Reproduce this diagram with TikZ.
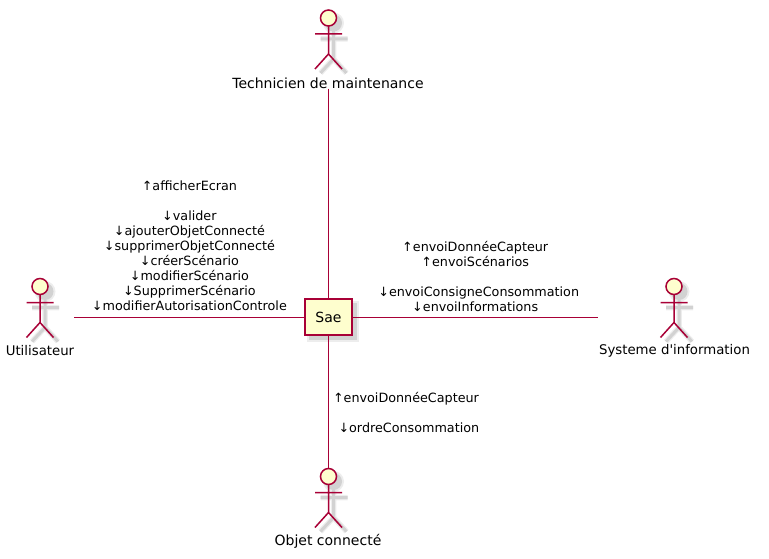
\documentclass[tikz,border=0pt]{standalone}
\usepackage{fontspec}
\setmainfont{DejaVu Sans}
\newfontfamily\plainquote{DejaVu Sans}
\definecolor{umlred}{HTML}{A80036}
\definecolor{umlfill}{HTML}{FEFECE}
\definecolor{umlshadow}{HTML}{D2D2D2}
\definecolor{umlhalo}{HTML}{EDEDED}
\tikzset{
    actorname/.style={inner sep=0pt, font=\fontsize{14}{16}\selectfont},
    actorsmall/.style={inner sep=0pt, font=\fontsize{13.3}{16}\selectfont},
    actorhead/.style={circle, draw=umlred, fill=umlfill, line width=1.5pt, minimum size=16pt, inner sep=0pt},
    actorline/.style={draw=umlred, line width=1.5pt},
    actorshade/.style={draw=umlshadow, line width=3pt},
    actorhalo/.style={draw=umlhalo, line width=5.5pt},
    usecase/.style={draw=umlred, fill=umlfill, line width=1.25pt, minimum width=47pt, minimum height=36pt, inner sep=0pt, font=\fontsize{14}{16}\selectfont},
    link/.style={draw=umlred, line width=1pt},
    linklabel/.style={inner sep=0pt, align=center, font=\fontsize{12.75}{15}\selectfont}
}
% actor figure: name, x of the body, y of the head centre
\newcommand{\actorfig}[3]{
    \fill[umlhalo] (#2+5,#3+5) circle (10.5);
    \draw[actorhalo] (#2-8,#3+21) -- (#2+19,#3+21) (#2+5,#3+13) -- (#2+5,#3+41) -- (#2-8,#3+55) (#2+5,#3+41) -- (#2+18,#3+55);
    \fill[umlshadow] (#2+5,#3+5) circle (8.5);
    \draw[actorshade] (#2-8,#3+21) -- (#2+19,#3+21) (#2+5,#3+13) -- (#2+5,#3+41) -- (#2-8,#3+55) (#2+5,#3+41) -- (#2+18,#3+55);
    \draw[actorline] (#2,#3+8) -- (#2,#3+36) -- (#2-13.5,#3+51) (#2,#3+36) -- (#2+13.5,#3+51) (#2-13.5,#3+16) -- (#2+13.5,#3+16);
    \node[actorhead] (#1) at (#2,#3) {};
}
\begin{document}
\begin{tikzpicture}[x=1pt, y=-1pt]
    \useasboundingbox (0,0) rectangle (769,559);

    \actorfig{techHead}{328.5}{18}
    \actorfig{userHead}{40}{286.5}
    \actorfig{infoHead}{674}{286.5}
    \actorfig{objHead}{328.5}{476.5}

    \node[actorname] (tech) at (328,83) {Technicien de maintenance};
    \node[actorsmall, minimum width=68pt] (user) at (40,351) {Utilisateur};
    \node[actorsmall, minimum width=153pt] (info) at (674.5,351) {\plainquote Systeme d'information};
    \node[actorname] (obj) at (328,541) {Objet connecté};

    \fill[umlhalo] (307,301) rectangle (359,342);
    \fill[umlshadow] (309,303) rectangle (357,340);
    \node[usecase] (sae) at (328.5,317) {Sae};

    \coordinate (userEnd) at (user.east |- sae);
    \coordinate (infoEnd) at (info.west |- sae);
    \coordinate (techEnd) at (tech.south -| sae);

    \draw[link] (techEnd) -- (sae);
    \draw[link] (userEnd) -- node[linklabel, above=5.5pt] {↑afficherEcran\\[15pt]↓valider\\↓ajouterObjetConnecté\\↓supprimerObjetConnecté\\↓créerScénario\\↓modifierScénario\\↓SupprimerScénario\\↓modifierAutorisationControle} (sae);
    \draw[link] (sae) -- node[linklabel, above=5pt] {↑envoiDonnéeCapteur\\↑envoiScénarios\\[15pt]\hspace*{7pt}↓envoiConsigneConsommation\\↓envoiInformations} (infoEnd);
    \draw[link] (sae) -- node[linklabel, pos=0.475, right=4pt] {↑envoiDonnéeCapteur} node[linklabel, pos=0.7, right=9.5pt] {↓ordreConsommation} (objHead);
\end{tikzpicture}
\end{document}
